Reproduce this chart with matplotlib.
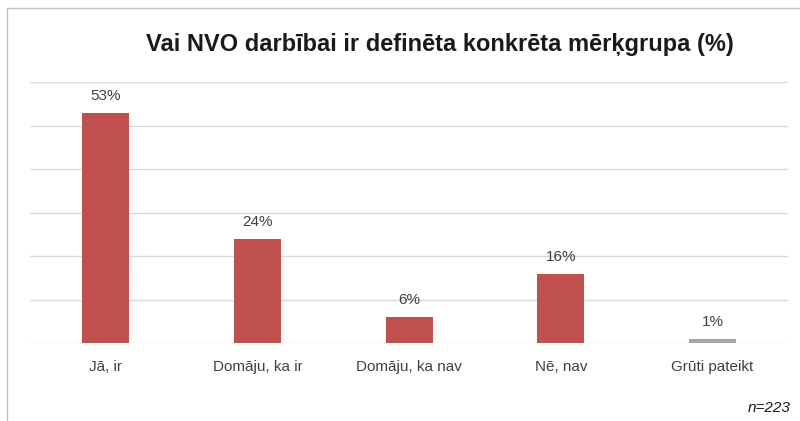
import matplotlib
matplotlib.use("Agg")
from matplotlib import pyplot as plt
from matplotlib.lines import Line2D
from matplotlib import font_manager
import numpy as np

# data
categories = ['Jā, ir', 'Domāju, ka ir', 'Domāju, ka nav', 'Nē, nav', 'Grūti pateikt']
values = [53, 24, 6, 16, 1]
bar_colors = ['#C0504D', '#C0504D', '#C0504D', '#C0504D', '#A6A6A6']
title = 'Vai NVO darbībai ir definēta konkrēta mērķgrupa (%)'
note = 'n=223'

names = {f.name for f in font_manager.fontManager.ttflist}
narrow = 'Liberation Sans Narrow' if 'Liberation Sans Narrow' in names else 'Liberation Sans'
plt.rcParams['font.family'] = [narrow, 'DejaVu Sans']

fig = plt.figure(figsize=(8, 4.21), dpi=100)
ax = fig.add_axes([0.0375, 0.185, 0.948, 0.62])

x = np.arange(len(categories))
bars = ax.bar(x, values, width=0.31, color=bar_colors, zorder=3)
for b, v in zip(bars, values):
    ax.annotate(f'{v}%', (b.get_x() + b.get_width() / 2, v), xytext=(0, 7),
                textcoords='offset points', ha='center', va='bottom',
                fontsize=11, color='#404040')

ax.set_xlim(-0.5, len(categories) - 0.5)
ax.set_ylim(0, 60)
ax.set_yticks(np.arange(0, 61, 10))
ax.yaxis.grid(True, color='#D9D9D9', linewidth=1)
ax.set_axisbelow(True)
for s in ax.spines.values():
    s.set_visible(False)
ax.tick_params(left=False, bottom=False, labelleft=False)
ax.set_xticks(x)
ax.set_xticklabels(categories, fontsize=11, color='#404040')
ax.tick_params(axis='x', pad=9)

fig.text(0.55, 0.895, title, ha='center', va='center', fontsize=17,
         fontweight='bold', color='#1a1a1a')
fig.text(0.988, 0.03, note, ha='right', va='center', fontsize=11,
         style='italic', color='#1a1a1a')

# outer frame (left and top edges)
fig.add_artist(Line2D([0.009, 0.009, 1.0], [0.0, 0.981, 0.981], color='#BFBFBF', linewidth=1))

fig.savefig('out.png', dpi=100)
